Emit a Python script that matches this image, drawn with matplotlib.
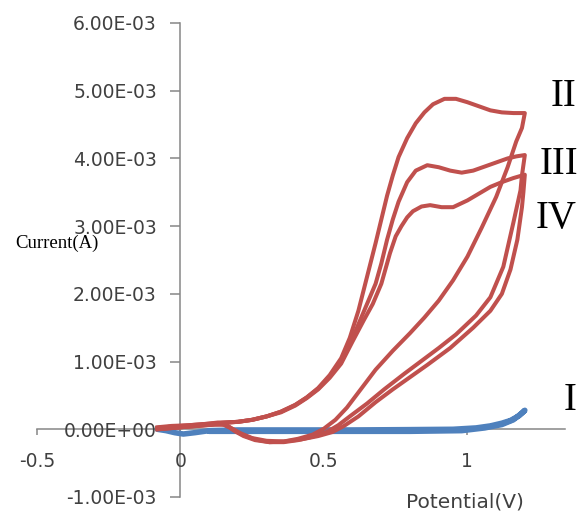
import numpy as np
import matplotlib
matplotlib.use('Agg')
import matplotlib.pyplot as plt
from matplotlib.ticker import FuncFormatter

# values; currents in mA, converted to A when plotted
curve1_x = [-0.08, -0.05, -0.02, 0.01, 0.05, 0.10, 0.20, 0.40, 0.60, 0.80, 0.95, 1.03, 1.08,
            1.12, 1.15, 1.18, 1.20, 1.19, 1.16, 1.12, 1.06, 0.98, 0.80, 0.50, 0.20, 0.10]
curve1_y = [0.00, -0.02, -0.05, -0.07, -0.05, -0.02, -0.01, -0.01, -0.01, -0.005, 0.0, 0.02, 0.05,
            0.09, 0.13, 0.20, 0.28, 0.24, 0.14, 0.07, 0.02, -0.02, -0.03, -0.03, -0.03, -0.03]

curve2_x = [-0.08, -0.03, 0.03, 0.09, 0.13, 0.16, 0.20, 0.25, 0.30, 0.35, 0.40, 0.44, 0.48,
            0.52, 0.56, 0.59, 0.62, 0.65, 0.68, 0.70, 0.72, 0.74, 0.76, 0.79, 0.82, 0.85, 0.88,
            0.92, 0.96, 1.00, 1.04, 1.08, 1.12, 1.16, 1.20,
            1.19, 1.17, 1.14, 1.10, 1.05, 1.00, 0.95, 0.90, 0.85, 0.80, 0.74, 0.68, 0.63, 0.58,
            0.54, 0.50, 0.46, 0.41, 0.36, 0.31, 0.26, 0.22, 0.19, 0.17, 0.15, 0.12, 0.06, 0.00,
            -0.05, -0.08]
curve2_y = [0.03, 0.05, 0.06, 0.08, 0.10, 0.10, 0.11, 0.14, 0.19, 0.26, 0.36, 0.47, 0.61,
            0.80, 1.05, 1.35, 1.75, 2.25, 2.75, 3.10, 3.45, 3.75, 4.02, 4.30, 4.52, 4.68, 4.80,
            4.88, 4.88, 4.83, 4.77, 4.71, 4.68, 4.67, 4.67,
            4.45, 4.25, 3.87, 3.43, 2.98, 2.55, 2.20, 1.90, 1.65, 1.42, 1.16, 0.88, 0.60, 0.32,
            0.14, 0.01, -0.08, -0.14, -0.18, -0.19, -0.16, -0.10, -0.03, 0.03, 0.07, 0.07, 0.05,
            0.03, 0.01, 0.00]

curve3_x = [-0.08, -0.03, 0.03, 0.09, 0.13, 0.16, 0.20, 0.25, 0.30, 0.35, 0.40, 0.44, 0.48,
            0.52, 0.56, 0.59, 0.62, 0.65, 0.68, 0.70, 0.72, 0.74, 0.76, 0.79, 0.82, 0.86, 0.90,
            0.94, 0.98, 1.02, 1.06, 1.10, 1.14, 1.17, 1.20,
            1.19, 1.185, 1.16, 1.125, 1.08, 1.03, 0.96, 0.90, 0.84, 0.78, 0.71, 0.65, 0.59, 0.55,
            0.51, 0.46, 0.41, 0.36, 0.31, 0.26, 0.22, 0.19, 0.17, 0.15, 0.12, 0.06, 0.00, -0.05,
            -0.08]
curve3_y = [0.02, 0.04, 0.06, 0.08, 0.09, 0.10, 0.11, 0.14, 0.19, 0.26, 0.36, 0.47, 0.60,
            0.78, 1.00, 1.25, 1.55, 1.85, 2.15, 2.45, 2.80, 3.10, 3.36, 3.65, 3.82, 3.90, 3.87,
            3.82, 3.79, 3.82, 3.88, 3.94, 4.00, 4.03, 4.05,
            3.75, 3.53, 3.05, 2.40, 1.95, 1.68, 1.40, 1.20, 1.01, 0.82, 0.59, 0.38, 0.19, 0.06,
            -0.04, -0.11, -0.16, -0.19, -0.19, -0.15, -0.09, -0.02, 0.03, 0.07, 0.07, 0.05, 0.03,
            0.01, 0.00]

curve4_x = [-0.08, -0.03, 0.03, 0.09, 0.13, 0.16, 0.20, 0.25, 0.30, 0.35, 0.40, 0.44, 0.48,
            0.52, 0.56, 0.60, 0.64, 0.67, 0.70, 0.73, 0.75, 0.77, 0.79, 0.81, 0.84, 0.87, 0.91,
            0.95, 1.00, 1.04, 1.08, 1.12, 1.16, 1.20,
            1.195, 1.19, 1.174, 1.15, 1.12, 1.08, 1.02, 0.94, 0.86, 0.80, 0.74, 0.68, 0.62, 0.57,
            0.53, 0.48, 0.42, 0.36, 0.30, 0.25, 0.21, 0.18, 0.16, 0.14, 0.10, 0.05, 0.00, -0.05,
            -0.08]
curve4_y = [0.02, 0.04, 0.05, 0.07, 0.09, 0.10, 0.11, 0.14, 0.19, 0.25, 0.35, 0.46, 0.59,
            0.76, 0.97, 1.30, 1.62, 1.85, 2.15, 2.60, 2.85, 3.00, 3.13, 3.22, 3.29, 3.31, 3.28,
            3.28, 3.38, 3.48, 3.58, 3.65, 3.71, 3.76,
            3.50, 3.28, 2.80, 2.36, 2.00, 1.75, 1.50, 1.20, 0.95, 0.77, 0.59, 0.40, 0.19, 0.05,
            -0.04, -0.10, -0.15, -0.18, -0.17, -0.13, -0.06, 0.01, 0.06, 0.08, 0.07, 0.05, 0.03,
            0.02, 0.01]

x_ticks = [-0.5, 0, 0.5, 1]
y_ticks = [-1e-3, 0, 1e-3, 2e-3, 3e-3, 4e-3, 5e-3, 6e-3]

curve_labels = ['I', 'II', 'III', 'IV']
label_pos = [(570, 400), (563, 97), (559, 164), (556, 218)]  # pixels

W, H = 581, 515
fig = plt.figure(figsize=(W / 100, H / 100), dpi=100)
ax = fig.add_axes([37 / W, (H - 497) / H, (565 - 37) / W, (497 - 23) / H])

blue = '#4F81BD'
red = '#C0504D'
grey = '#868686'
txt = '#404040'

ax.plot(curve1_x, np.array(curve1_y) * 1e-3, color=blue, lw=4, solid_capstyle='round', zorder=3)
for cx, cy in [(curve2_x, curve2_y), (curve3_x, curve3_y), (curve4_x, curve4_y)]:
    ax.plot(cx, np.array(cy) * 1e-3, color=red, lw=2.9, solid_joinstyle='round', zorder=4)

ax.set_xlim(-0.5, 1.34)
ax.set_ylim(-1e-3, 6e-3)
ax.spines['top'].set_visible(False)
ax.spines['right'].set_visible(False)
ax.spines['left'].set_position(('data', 0))
ax.spines['bottom'].set_position(('data', 0))
for s in ['left', 'bottom']:
    ax.spines[s].set_color(grey)
    ax.spines[s].set_linewidth(1.1)
    ax.spines[s].set_zorder(1)

ax.set_xticks(x_ticks)
ax.set_xticklabels(['-0.5', '0', '0.5', '1'])
ax.set_yticks(y_ticks)
ax.yaxis.set_major_formatter(FuncFormatter(lambda v, p: '%.2E' % v))
ax.tick_params(axis='y', direction='out', length=7, width=1.1, color=grey, pad=10,
               labelsize=13.5, labelcolor=txt)
ax.tick_params(axis='x', direction='out', length=4.3, width=1.1, color=grey, pad=12,
               labelsize=13.5, labelcolor=txt)

fig.text(57 / W, 1 - 243 / H, 'Current(A)', family='Liberation Serif', fontsize=13.5,
         ha='center', va='center', color='black')
fig.text(465 / W, 1 - 502 / H, 'Potential(V)', fontsize=14.5, ha='center', va='center', color=txt)

for lab, (px, py) in zip(curve_labels, label_pos):
    fig.text(px / W, 1 - py / H, lab, family='Liberation Serif', fontsize=28,
             ha='center', va='center', color='black')

fig.savefig('out.png', dpi=100)
